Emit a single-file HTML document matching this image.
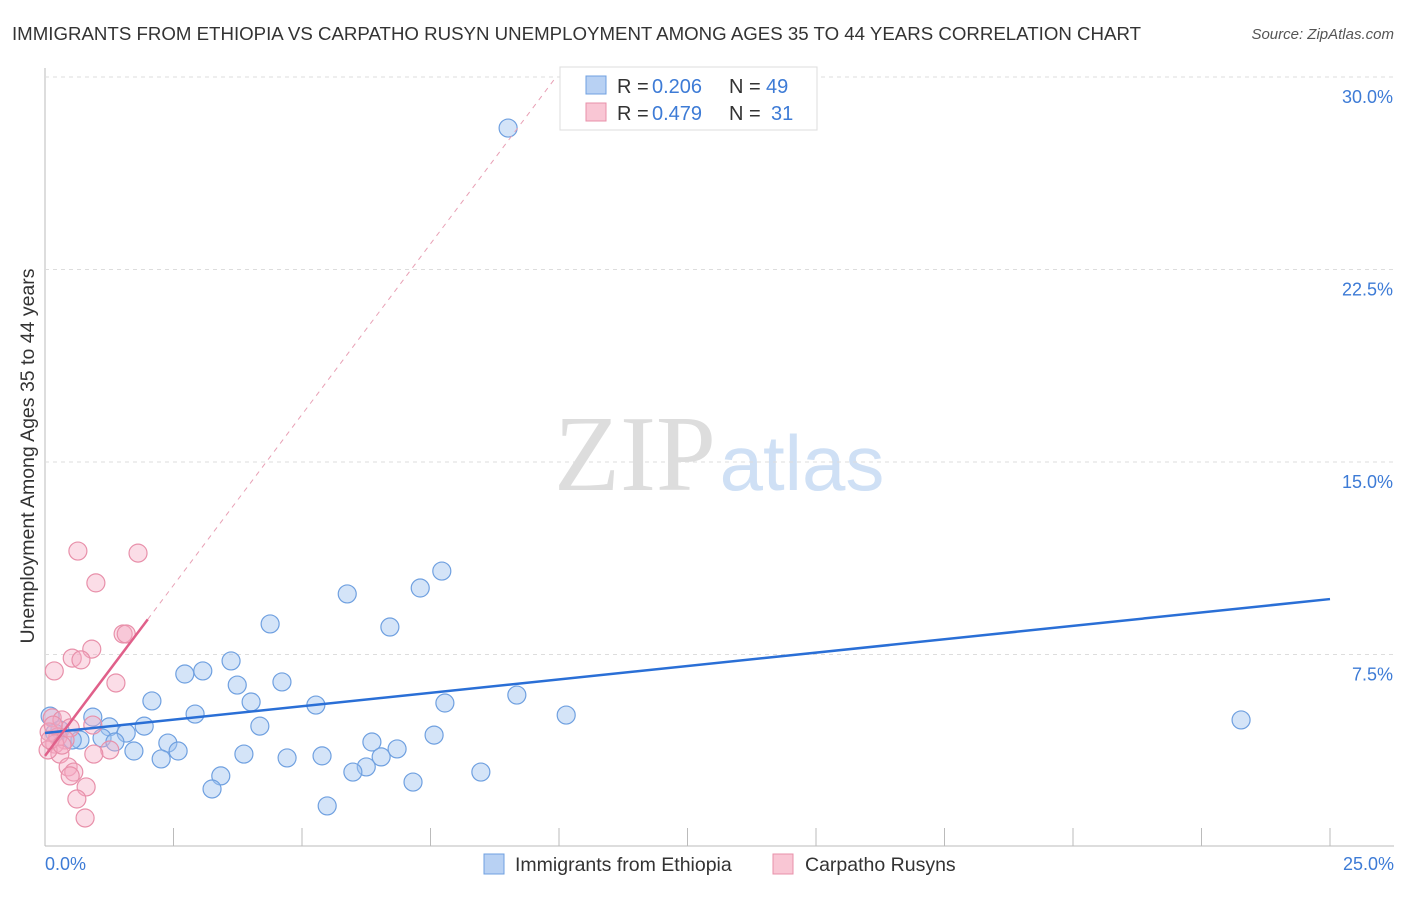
<!DOCTYPE html>
<html><head><meta charset="utf-8"><style>
body{margin:0;background:#fff;font-family:"Liberation Sans",sans-serif}
svg text{font-family:"Liberation Sans",sans-serif}
</style></head><body>
<svg id="c" width="1406" height="892">
<text x="12" y="40" font-size="18" fill="#333" textLength="1129" lengthAdjust="spacingAndGlyphs">IMMIGRANTS FROM ETHIOPIA VS CARPATHO RUSYN UNEMPLOYMENT AMONG AGES 35 TO 44 YEARS CORRELATION CHART</text>
<text x="1394" y="39" font-size="15" fill="#555" text-anchor="end" font-style="italic">Source: ZipAtlas.com</text>
<g>
<text x="635" y="490" font-size="108" fill="#ddd" text-anchor="middle" style="font-family:'Liberation Serif',serif">ZIP</text>
<text x="802" y="490" font-size="78" fill="#cfe0f5" text-anchor="middle">atlas</text>
</g>
<g id="grid"></g><g id="marks"></g>
<text transform="translate(34,456) rotate(-90)" font-size="19.5" fill="#333" text-anchor="middle">Unemployment Among Ages 35 to 44 years</text>
<g>
<rect x="560" y="67" width="257" height="63" fill="#fff" stroke="#ddd"/>
<rect x="586" y="76" width="20" height="18" fill="#b8d1f3" stroke="#6fa0e0"/>
<rect x="586" y="103" width="20" height="18" fill="#f9c6d4" stroke="#e890aa"/>
<text x="617" y="93" font-size="20" fill="#333">R =</text>
<text x="652" y="93" font-size="20" fill="#3d7bd6">0.206</text>
<text x="729" y="93" font-size="20" fill="#333">N =</text>
<text x="766" y="93" font-size="20" fill="#3d7bd6">49</text>
<text x="617" y="120" font-size="20" fill="#333">R =</text>
<text x="652" y="120" font-size="20" fill="#3d7bd6">0.479</text>
<text x="729" y="120" font-size="20" fill="#333">N =</text>
<text x="771" y="120" font-size="20" fill="#3d7bd6">31</text>
</g>
<g>
<rect x="484" y="854" width="20" height="20" fill="#b8d1f3" stroke="#6fa0e0"/>
<text x="515" y="871" font-size="19.5" fill="#333">Immigrants from Ethiopia</text>
<rect x="773" y="854" width="20" height="20" fill="#f9c6d4" stroke="#e890aa"/>
<text x="805" y="871" font-size="19.5" fill="#333">Carpatho Rusyns</text>
</g>
</svg>
<script>
const yTicks=[7.5,15,22.5,30];
const yTickLabels=["7.5%","15.0%","22.5%","30.0%"];
const xTickLabels=["0.0%","25.0%"];
const blueX=[9.01,7.72,7.30,5.88,6.71,4.38,3.62,2.72,3.07,3.74,4.61,2.08,4.01,2.92,5.27,9.18,7.78,10.14,23.27,0.93,1.25,1.93,4.18,1.58,1.11,0.68,7.57,6.36,6.85,2.39,1.36,1.73,2.59,3.87,6.54,5.39,4.71,2.26,6.25,5.99,8.48,3.42,7.16,3.25,5.49,0.10,0.29,0.53,0.19];
const blueY=[28.01,10.75,10.09,9.86,8.57,8.69,7.25,6.74,6.86,6.31,6.43,5.69,5.65,5.18,5.53,5.92,5.61,5.14,4.95,5.06,4.68,4.71,4.71,4.44,4.25,4.17,4.36,4.09,3.82,4.05,4.09,3.74,3.74,3.62,3.51,3.55,3.47,3.43,3.12,2.92,2.92,2.77,2.53,2.26,1.60,5.10,4.56,4.17,4.44];
const pinkX=[0.64,1.81,0.99,1.52,1.58,0.91,0.53,0.70,0.18,1.38,0.14,0.33,0.93,0.49,0.08,0.25,0.39,0.19,1.26,0.95,0.29,0.06,0.45,0.56,0.49,0.80,0.62,0.78,0.10,0.33,0.16];
const pinkY=[11.53,11.45,10.29,8.30,8.30,7.71,7.36,7.29,6.86,6.39,5.03,4.95,4.75,4.64,4.48,4.29,4.17,4.01,3.78,3.62,3.62,3.78,3.12,2.92,2.77,2.34,1.87,1.13,4.17,3.97,4.75];
const blueTrend=[4.44,9.66];
const pinkTrend=[3.55,2.66];
const X=v=>45+v*51.4, Y=v=>847-v*25.667;
const NS="http://www.w3.org/2000/svg";
function mk(p,t,a){const e=document.createElementNS(NS,t);for(const k in a)e.setAttribute(k,a[k]);p.appendChild(e);return e;}
const g=document.getElementById('grid'),m=document.getElementById('marks');
mk(g,'line',{x1:45,y1:68,x2:45,y2:846,stroke:'#bbb'});
mk(g,'line',{x1:45,y1:846,x2:1394,y2:846,stroke:'#bbb'});
yTicks.forEach((t,i)=>{
 const l=mk(g,'line',{x1:45,y1:Y(t),x2:1394,y2:Y(t),stroke:'#ddd','stroke-dasharray':'4,4'});
 
 
 const tx=mk(g,'text',{x:1393,y:Y(t)+26,'font-size':18,fill:'#3d7bd6','text-anchor':'end'});tx.textContent=yTickLabels[i];
 
 
});
for(let i=0;i<=10;i++){mk(g,'line',{x1:X(i*2.5),y1:828,x2:X(i*2.5),y2:846,stroke:'#bbb'});}
const x0=mk(g,'text',{x:45,y:870,'font-size':18,fill:'#3d7bd6'});x0.textContent=xTickLabels[0];


const x1=mk(g,'text',{x:1394,y:870,'font-size':18,fill:'#3d7bd6','text-anchor':'end'});x1.textContent=xTickLabels[1];


blueX.forEach((v,i)=>{const c=mk(m,'circle',{cx:X(v),cy:Y(blueY[i]),r:9,fill:'rgba(160,195,240,0.45)',stroke:'#6fa0e0','stroke-width':1.2});
 
 });
pinkX.forEach((v,i)=>{const c=mk(m,'circle',{cx:X(v),cy:Y(pinkY[i]),r:9,fill:'rgba(245,170,195,0.4)',stroke:'#e890aa','stroke-width':1.2});
 
 });
const bl=mk(m,'line',{x1:X(0),y1:Y(blueTrend[0]),x2:X(25),y2:Y(blueTrend[1]),stroke:'#2a6fd6','stroke-width':2.5});


const xe=(30-pinkTrend[0])/pinkTrend[1];
const pd=mk(m,'line',{x1:X(2),y1:Y(pinkTrend[0]+2*pinkTrend[1]),x2:X(xe),y2:Y(30),stroke:'#e8a0b5','stroke-width':1,'stroke-dasharray':'5,5'});


const pl=mk(m,'line',{x1:X(0),y1:Y(pinkTrend[0]),x2:X(2),y2:Y(pinkTrend[0]+2*pinkTrend[1]),stroke:'#e0608a','stroke-width':2.5});


</script>
</body></html>
